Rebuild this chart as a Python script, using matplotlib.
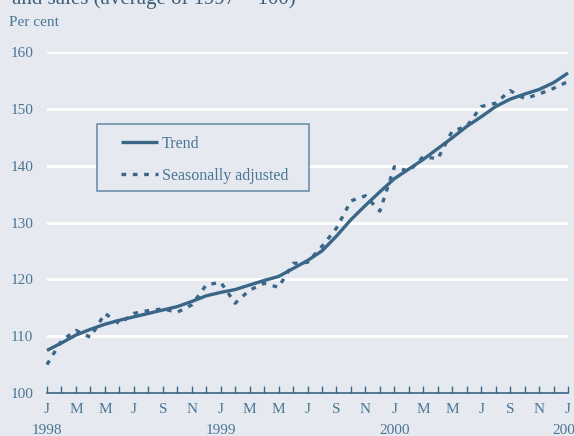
import matplotlib
matplotlib.use("Agg")
import matplotlib.pyplot as plt
from matplotlib.patches import Rectangle
import numpy as np

plt.rcParams['font.family'] = ['Liberation Serif', 'DejaVu Serif']

tick_labels = ["J", "M", "M", "J", "S", "N"] * 3 + ["J"]
years = ["1998", "1999", "2000", "2001"]

trend = [107.5, 108.8, 110.2, 111.2, 112.1, 112.8, 113.4, 114.0, 114.6, 115.2, 116.1, 117.1,
         117.7, 118.2, 119.0, 119.8, 120.5, 121.9, 123.3, 125.0, 127.6, 130.5, 133.0, 135.4,
         137.7, 139.4, 141.1, 143.0, 144.9, 146.9, 148.6, 150.4, 151.7, 152.6, 153.4, 154.6,
         156.3]
seas_adj = [105.0, 109.2, 111.0, 109.8, 114.0, 112.2, 114.0, 114.5, 114.8, 114.2, 115.5, 119.0,
            119.5, 115.8, 118.1, 119.3, 118.6, 122.8, 123.0, 125.8, 129.0, 133.8, 134.7, 132.0,
            139.8, 139.0, 141.6, 141.2, 146.1, 146.9, 150.4, 151.0, 153.2, 151.8, 152.6, 153.6,
            154.8]

bg = "#e6eaf0"
line_c = "#3a6688"
text_c = "#4a7595"
W, H = 574, 436

fig = plt.figure(figsize=(5.74, 4.36), dpi=100, facecolor=bg)
ax = fig.add_axes([47/W, 1 - 393/H, (568-47)/W, (393-52)/H], facecolor=bg)

x = np.arange(len(trend))
ax.set_xlim(0, 36)
ax.set_ylim(100, 160)

for v in range(110, 161, 10):
    ax.axhline(v, color="white", lw=2, zorder=1)

l1, = ax.plot(x, trend, color=line_c, lw=2.4, zorder=3, clip_on=False, solid_capstyle='butt')
l2, = ax.plot(x, seas_adj, color=line_c, lw=2.4, ls=(0, (1.4, 2.0)), zorder=3, clip_on=False)

for s in ["top", "right", "left"]:
    ax.spines[s].set_visible(False)
ax.spines["bottom"].set_color(line_c)
ax.spines["bottom"].set_linewidth(1.2)

ax.set_xticks(x, minor=True)
ax.set_xticks(x[::2])
ax.set_xticklabels(tick_labels)
ax.tick_params(axis="x", which="both", direction="in", length=5, color=line_c, width=1,
               labelsize=11, labelcolor=text_c, pad=7)
ax.set_yticks(range(100, 161, 10))
ax.tick_params(axis="y", length=0, labelsize=11, labelcolor=text_c, pad=10)

for i, yr in enumerate(years):
    ax.text(i * 12, -0.11, yr, transform=ax.get_xaxis_transform(), ha="center", va="center",
            fontsize=11, color=text_c, clip_on=False)

fig.text(9/W, 1 - 22/H, "Per cent", fontsize=11, color=text_c, va="center", ha="left")
fig.text(12/W, 1 - 4/H, "and sales (average of 1997 = 100)", fontsize=15, color="#3b5e7c",
         va="baseline", ha="left")

# legend frame
fig.patches.append(Rectangle((97/W, 1 - 191/H), (309-97)/W, (191-124)/H,
                             transform=fig.transFigure, facecolor=bg, edgecolor="#6f8fab",
                             lw=1.2, zorder=4))
leg = fig.legend([l1, l2], ["Trend", "Seasonally adjusted"], loc="upper left",
                 bbox_to_anchor=(121/W, 1 - 136/H), frameon=False, fontsize=11.5,
                 handlelength=2.3, handletextpad=0.25, labelspacing=1.0, borderpad=0,
                 borderaxespad=0, labelcolor=text_c)
leg.set_zorder(5)

fig.savefig("out.png", dpi=100, facecolor=bg)
